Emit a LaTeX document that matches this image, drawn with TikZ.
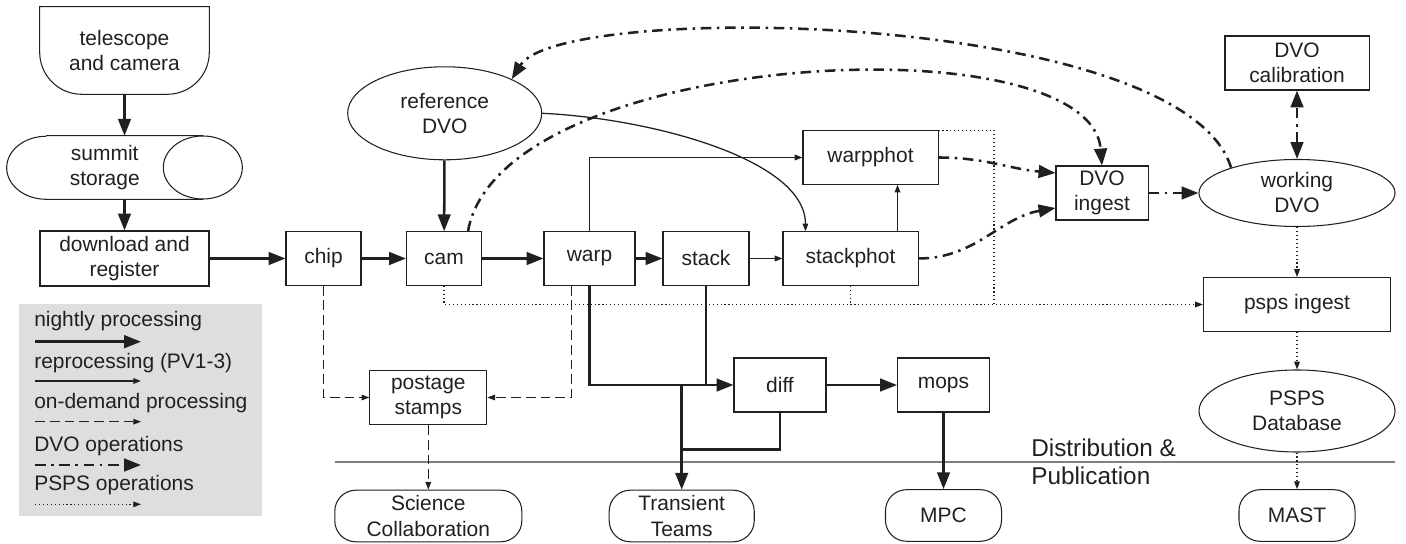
\documentclass[tikz,border=0pt]{standalone}
\usepackage{fontspec}
\setmainfont{Liberation Sans}
\usepackage{tikz}
\usetikzlibrary{arrows.meta,calc,shapes.geometric}
\definecolor{ink}{RGB}{35,31,32}
\definecolor{legendgray}{RGB}{221,222,224}
\definecolor{rulegray}{RGB}{128,128,128}
\tikzset{%
	bigtip/.tip     = {Triangle[length=12pt,width=9pt]},
	smalltip/.tip   = {Triangle[length=5.5pt,width=4pt]},
}
\tikzset{%
	block/.style    = {draw, rectangle, line width=0.75pt, minimum height=1.335cm, align=center, inner sep=1pt},
	store/.style    = {draw, ellipse, line width=0.75pt, align=center, inner sep=0pt}, % DVO / database
	terminal/.style = {draw, rectangle, rounded corners=15pt, line width=0.75pt, minimum height=1.29cm, align=center, inner sep=1pt}, % consumers
	shell/.style    = {rectangle, align=center, inner sep=1pt}, % outline drawn by hand
	legtext/.style  = {anchor=west, inner sep=0pt},
	nightly/.style  = {line width=1.8pt, -bigtip},
	reproc/.style   = {line width=0.9pt, -smalltip},
	ondemand/.style = {line width=0.8pt, dash pattern=on 7pt off 3.5pt, -smalltip},
	dvoop/.style    = {line width=1.8pt, dash pattern=on 7.5pt off 4pt on 1.8pt off 4pt, -bigtip},
	pspsop/.style   = {line width=0.8pt, dash pattern=on 0.8pt off 2pt, -smalltip},
}

\begin{document}
\begin{tikzpicture}[x=0.025cm, y=0.025cm, color=ink, font=\fontsize{14.9}{17.8}\selectfont]
	\useasboundingbox (0,0) rectangle (1406,544);
	
	% legend
	\fill[legendgray] (19,28.3) rectangle (261.7,240);
	\node[legtext] (lgnightly) at (34,223.3) {nightly processing};
	\node[legtext] (lgreproc) at (34,180.7) {reprocessing (PV1-3)};
	\node[legtext] (lgdemand) at (34,140.7) {on-demand processing};
	\node[legtext] (lgdvo) at (34,98.3) {DVO operations};
	\node[legtext] (lgpsps) at (34,59) {PSPS operations};
	\coordinate (ln1s) at (35,202.3);  \coordinate (ln1e) at (141,202.3);
	\coordinate (ln2s) at (35,163);    \coordinate (ln2e) at (141,163);
	\coordinate (ln3s) at (35,122.3);  \coordinate (ln3e) at (141,122.3);
	\coordinate (ln4s) at (35,79);     \coordinate (ln4e) at (141,79);
	\coordinate (ln5s) at (35,39.7);   \coordinate (ln5e) at (141,39.7);
	\draw[nightly] (ln1s) -- (ln1e);
	\draw[reproc] (ln2s) -- (ln2e);
	\draw[ondemand] (ln3s) -- (ln3e);
	\draw[dvoop] (ln4s) -- (ln4e);
	\draw[pspsop] (ln5s) -- (ln5e);
	
	% distribution line
	\draw[rulegray, line width=2.1pt] (335,82) -- (1395,82);
	\node[anchor=west, inner sep=0pt, align=left, font=\fontsize{17.3}{20.2}\selectfont] (distpub) at (1031,82) {Distribution \&\\Publication};
	
	% summit side
	\node[shell, minimum width=4.225cm, minimum height=2.175cm] (tel) at (124.5,493.5) {telescope\\and camera};
	\draw[line width=0.75pt] (tel.north west) -- (tel.north east) -- ($(tel.south east)+(0,42)$) arc[start angle=0, end angle=-90, radius=1.05cm] -- ($(tel.south west)+(42,0)$) arc[start angle=270, end angle=180, radius=1.05cm] -- cycle;
	\node[shell, minimum width=4.8875cm, minimum height=1.575cm] (summit) at (104.75,376.5) {summit\\storage};
	\draw[line width=0.75pt] (summit.east) ellipse [x radius=0.9875cm, y radius=0.7875cm];
	\draw[line width=0.75pt] ($(summit.north west)+(39.5,0)$) -- (summit.north east) (summit.south east) -- ($(summit.south west)+(39.5,0)$) arc[start angle=270, end angle=90, x radius=0.9875cm, y radius=0.7875cm];
	\node[block, minimum width=4.225cm, minimum height=1.375cm] (dlreg) at (124.5,285.5) {download and\\register};
	
	% processing stages
	\node[block, minimum width=1.875cm] (chip) at (323.5,285.5) {chip};
	\node[block, minimum width=1.875cm] (cam) at (444,285.5) {cam};
	\node[block, minimum width=2.275cm] (warp) at (589.5,285.5) {warp};
	\node[block, minimum width=2.15cm] (stack) at (706,285.5) {stack};
	\node[block, minimum width=3.375cm] (stackphot) at (850.5,285.5) {stackphot};
	\node[block, minimum width=3.375cm] (warpphot) at (870.5,386.5) {warpphot};
	\node[store, minimum width=4.85cm, minimum height=2.325cm] (refdvo) at (444.7,430.7) {reference\\DVO};
	\node[block, minimum width=2.3cm, minimum height=1.35cm] (dvoingest) at (1102,351) {DVO\\ingest};
	\node[store, minimum width=4.9cm, minimum height=1.675cm] (workdvo) at (1297,351) {working\\DVO};
	\node[block, minimum width=3.6cm, minimum height=1.35cm] (dvocal) at (1297,481) {DVO\\calibration};
	\node[block, minimum width=4.675cm, minimum height=1.35cm] (pspsingest) at (1297,239.5) {psps ingest};
	\node[store, minimum width=4.9cm, minimum height=2.05cm] (pspsdb) at (1297,133) {PSPS\\Database};
	\node[block, minimum width=2.925cm, minimum height=1.35cm] (postage) at (428.3,146.5) {postage\\stamps};
	\node[block, minimum width=2.3cm, minimum height=1.35cm] (diff) at (780,159) {diff};
	\node[block, minimum width=2.3cm, minimum height=1.35cm] (mops) at (943.5,159) {mops};
	
	% consumers
	\node[terminal, minimum width=4.675cm] (scicollab) at (428.3,28) {Science\\Collaboration};
	\node[terminal, minimum width=3.625cm] (transient) at (681.7,28) {Transient\\Teams};
	\node[terminal, minimum width=2.9cm] (mpc) at (943.5,28.5) {MPC};
	\node[terminal, minimum width=2.9cm] (mast) at (1297,28.5) {MAST};
	
	\coordinate (sp1) at ($(stackphot.north)+(47,0)$);
	\coordinate (wd) at ($(warp.south)+(-18,0)$);
	\coordinate (dj) at ($(transient.north)+(0,40)$);
	\coordinate (pj) at ($(pspsingest.west)+(-209,0)$);
	
	\draw[nightly] (tel.south) -- (tel.south |- summit.north);
	\draw[nightly] (dlreg.north |- summit.south) -- (dlreg.north);
	\draw[nightly] (dlreg) -- (chip);
	\draw[nightly] (chip) -- (cam);
	\draw[nightly] (cam) -- (warp);
	\draw[nightly] (warp) -- (stack);
	\draw[reproc] (stack) -- (stackphot);
	\draw[reproc] (sp1) -- (sp1 |- warpphot.south);
	\draw[nightly] (refdvo) -- (cam);
	\draw[reproc] (refdvo.east) .. controls ($(refdvo.east)+(108,-5)$) and ($(stackphot.north west)+(23,72)$) .. ($(stackphot.north west)+(23,0)$);
	\draw[reproc] (warp.north) |- (warpphot.west);
	\draw[nightly] (warp.south) |- (diff.west);
	\draw[nightly,-] (stack.south) -- (stack.south |- diff.west);
	\draw[nightly] (transient.north |- diff.west) -- (transient.north);
	\draw[nightly,-] (diff.south) |- (dj);
	\draw[nightly] (diff) -- (mops);
	\draw[nightly] (mops) -- (mpc);
	
	\draw[ondemand] (chip.south) |- (postage.west);
	\draw[ondemand] (wd) |- (postage.east);
	\draw[ondemand] (postage) -- (scicollab);
	
	\draw[pspsop] (cam.south) |- (pspsingest.west);
	\draw[pspsop,-] (stackphot.south) -- (stackphot.south |- pspsingest.west);
	\draw[pspsop,-] (warpphot.north east) -| (pj);
	\draw[pspsop] (workdvo) -- (pspsingest);
	\draw[pspsop] (pspsingest) -- (pspsdb);
	\draw[pspsop] (pspsdb) -- (mast);
	
	\draw[dvoop] (dvoingest) -- (workdvo);
	\draw[dvoop,bigtip-bigtip] (workdvo) -- (dvocal);
	\draw[dvoop] (warpphot.east) to[out=0,in=175] ($(dvoingest.west)+(0,20)$);
	\draw[dvoop] (stackphot.east) to[out=0,in=190] ($(dvoingest.west)+(0,-15)$);
	\draw[dvoop] ($(cam.north)+(24,0)$) .. controls ($(cam.north)+(56,182)$) and ($(dvoingest.north)+(-12,146)$) .. (dvoingest.north);
	\draw[dvoop] (workdvo.159) .. controls ($(workdvo.159)+(-48,157)$) and ($(refdvo.27)+(49,79)$) .. (refdvo.27);
\end{tikzpicture}
\end{document}
